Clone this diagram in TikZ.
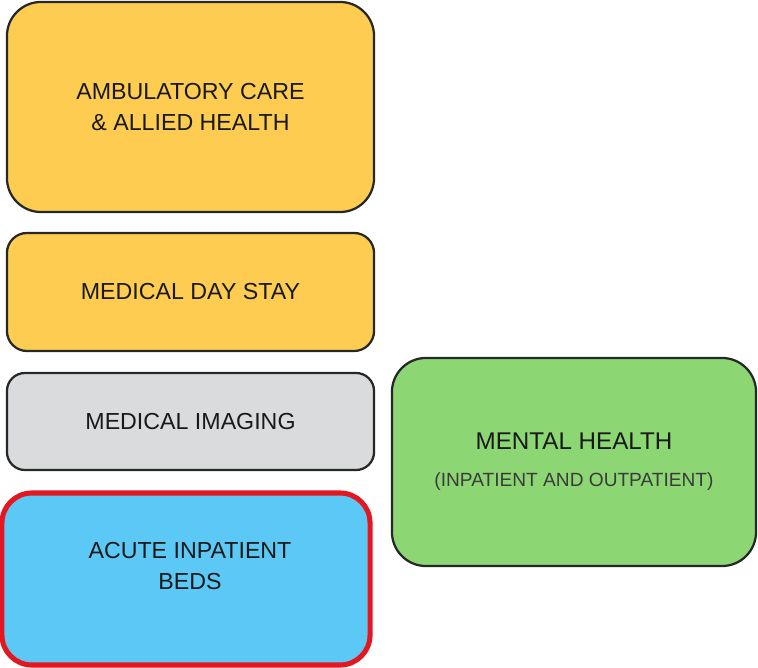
\documentclass[tikz,border=0pt]{standalone}
\usepackage{fontspec}
\setmainfont{Liberation Sans}
\definecolor{boxyellow}{RGB}{253,204,80}
\definecolor{boxgray}{RGB}{218,219,221}
\definecolor{boxblue}{RGB}{92,200,245}
\definecolor{boxgreen}{RGB}{140,214,115}
\definecolor{boxred}{RGB}{228,22,32}
\definecolor{edgedark}{RGB}{38,40,40}
\definecolor{textdark}{RGB}{25,25,25}
\begin{document}
\begin{tikzpicture}[x=0.025cm, y=-0.025cm,
    area/.style={draw=edgedark, line width=1.6pt, rectangle, align=center,
      text=textdark, font=\fontsize{16.5}{21.5}\selectfont}]
  \useasboundingbox (0,0) rectangle (758,668);

  % Left column: stacked service areas
  \node[area, fill=boxyellow, rounded corners=0.85cm,
    minimum width=9.175cm, minimum height=5.25cm] (ambulatory) at (190.5,107)
    {AMBULATORY CARE\\\& ALLIED HEALTH};
  \node[area, fill=boxyellow, rounded corners=0.5cm,
    minimum width=9.175cm, minimum height=2.95cm] (daystay) at (190.5,292)
    {MEDICAL DAY STAY};
  \node[area, fill=boxgray, rounded corners=0.45cm,
    minimum width=9.175cm, minimum height=2.425cm] (imaging) at (190.5,421.5)
    {MEDICAL IMAGING};

  % Highlighted area
  \node[area, fill=boxblue, draw=boxred, line width=3.6pt, rounded corners=0.75cm,
    minimum width=9.2cm, minimum height=4.3cm] (acute) at (186,579) {};
  \node[area, draw=none] (acutetext) at (190,566) {ACUTE INPATIENT\\BEDS};

  % Right: mental health
  \node[area, fill=boxgreen, rounded corners=0.85cm,
    minimum width=9.1cm, minimum height=5.2cm] (mental) at (574,462)
    {{\fontsize{17.2}{21.5}\selectfont MENTAL HEALTH}\\[5pt]{\fontsize{13.6}{15}\selectfont\color{textdark!85}(INPATIENT AND OUTPATIENT)}};
\end{tikzpicture}
\end{document}
